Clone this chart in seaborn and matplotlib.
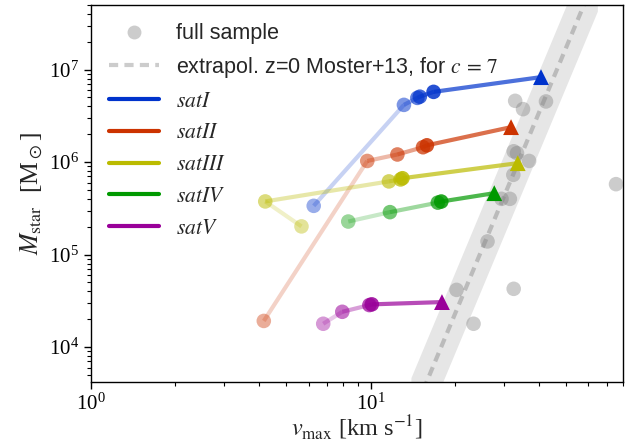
import matplotlib
matplotlib.use("Agg")
import matplotlib.pyplot as plt
import numpy as np
import pandas as pd
import seaborn as sns
from matplotlib.lines import Line2D

# full sample of galaxies (v_max in km/s, M_star in Msun)
full_vmax = [32.9, 35.1, 42.4, 32.5, 33.4, 36.9, 32.4, 29.4, 31.5, 26.2, 20.3, 32.5, 23.35, 75.5]
full_mstar = [4.6e6, 3.74e6, 4.53e6, 1.31e6, 1.25e6, 1.03e6, 7.29e5, 4.01e5, 4.01e5,
              1.39e5, 4.16e4, 4.27e4, 1.79e4, 5.78e5]

# extrapolated z=0 Moster+13 relation (c = 7) and its scatter band
moster_vmax = [14.0, 65.0]
moster_mstar = [1.7e3, 1.15e8]
band_low = [6.25e2, 4.23e7]
band_high = [4.62e3, 3.13e8]

# satellite tracks, last entry is the z=0 value (triangle)
sat_names = ["satI", "satII", "satIII", "satIV", "satV"]
sat_colors = ["#0033cc", "#cc3300", "#bbbb00", "#009900", "#990099"]
satI_vmax = [6.26, 13.16, 14.7, 15.0, 16.8, 40.7]
satI_mstar = [3.37e5, 4.16e6, 4.95e6, 5.1e6, 5.75e6, 8.3e6]
satII_vmax = [4.15, 9.73, 12.47, 15.4, 15.9, 31.8]
satII_mstar = [1.92e4, 1.03e6, 1.21e6, 1.45e6, 1.52e6, 2.39e6]
satIII_vmax = [5.66, 4.20, 11.63, 12.8, 13.0, 33.6]
satIII_mstar = [2.02e5, 3.76e5, 6.19e5, 6.5e5, 6.7e5, 9.75e5]
satIV_vmax = [8.32, 11.73, 17.4, 17.9, 27.7]
satIV_mstar = [2.28e5, 2.88e5, 3.65e5, 3.75e5, 4.62e5]
satV_vmax = [6.77, 7.92, 9.9, 10.1, 18.0]
satV_mstar = [1.79e4, 2.41e4, 2.85e4, 2.9e4, 3.07e4]

sat_vmax = [satI_vmax, satII_vmax, satIII_vmax, satIV_vmax, satV_vmax]
sat_mstar = [satI_mstar, satII_mstar, satIII_mstar, satIV_mstar, satV_mstar]

sns.set_theme(style="ticks")
plt.rcParams["font.family"] = ["Liberation Serif", "DejaVu Serif"]
plt.rcParams["mathtext.fontset"] = "stix"
plt.rcParams["axes.edgecolor"] = "black"
plt.rcParams["xtick.color"] = "black"
plt.rcParams["ytick.color"] = "black"

fig = plt.figure(figsize=(6.41, 4.45), dpi=100)
ax = fig.add_axes([0.142, 0.1416, 0.830, 0.8472])
ax.set_xscale("log")
ax.set_yscale("log")

ax.fill_between(moster_vmax, band_low, band_high, color="#e6e6e6", lw=0, zorder=1)
sns.lineplot(x=moster_vmax, y=moster_mstar, ax=ax, color="#bbbbbb", lw=3,
             dashes=False, zorder=2, legend=False)
ax.lines[-1].set_dashes((2.2, 1.5))

full_df = pd.DataFrame({"vmax": full_vmax, "mstar": full_mstar})
sns.scatterplot(data=full_df, x="vmax", y="mstar", ax=ax, s=110, color="gray",
                alpha=0.4, edgecolor="none", zorder=3, legend=False)

for color, vs, ms in zip(sat_colors, sat_vmax, sat_mstar):
    n = len(vs)
    seg_alpha = np.linspace(0.22, 0.7, n - 1)
    pt_alpha = np.linspace(0.4, 0.85, n - 1)
    for i in range(n - 1):
        ax.plot(vs[i:i + 2], ms[i:i + 2], color=color, alpha=seg_alpha[i], lw=3,
                solid_capstyle="butt", zorder=4)
    for i in range(n - 1):
        ax.scatter(vs[i], ms[i], s=110, color=color, alpha=pt_alpha[i],
                   edgecolor="none", zorder=5)
    ax.scatter(vs[-1], ms[-1], marker="^", s=130, color=color, edgecolor="none", zorder=6)

ax.set_xlim(1, 80)
ax.set_ylim(4.2e3, 5e7)
ax.set_xlabel(r"$v_\mathrm{max}$ [km s$^{-1}$]", fontsize=17.5, labelpad=-1)
ax.set_ylabel(r"$M_\mathrm{star}$  [M$_\odot$]", fontsize=18.5, labelpad=3)
ax.tick_params(which="major", length=5, width=1, labelsize=15, direction="out")
ax.tick_params(which="minor", length=3, width=0.8, direction="out")
for s in ax.spines.values():
    s.set_linewidth(1)

handles = [
    Line2D([], [], marker="o", ls="none", color="gray", alpha=0.4, markersize=10,
           markeredgecolor="none"),
    Line2D([], [], color="#cccccc", lw=3, dashes=(2.2, 1.5)),
]
labels = ["full sample", r"extrapol. z=0 Moster+13, for $c\,=\,7$"]
for name, color in zip(sat_names, sat_colors):
    handles.append(Line2D([], [], color=color, lw=3))
    labels.append(r"$%s$" % name)
ax.legend(handles, labels, loc="upper left", frameon=False, handlelength=2.32,
          handletextpad=0.79, labelspacing=0.5, borderaxespad=0.44,
          prop={"family": "Liberation Sans", "size": 15.5})

fig.savefig("out.png", dpi=100)
